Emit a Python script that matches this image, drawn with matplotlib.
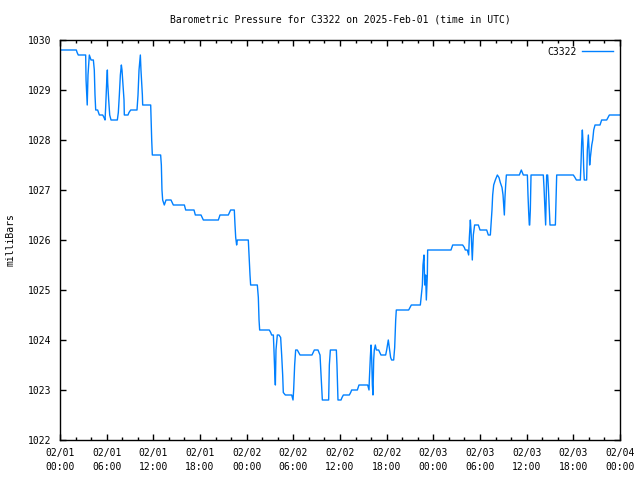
#!/usr/bin/env python3
import matplotlib

matplotlib.use("Agg", force=True)
import matplotlib.dates as mdates
import matplotlib.pyplot as plt
import pandas as pd

STATION = "C3322"
START = pd.Timestamp("2025-02-01 00:00")

# hours since 02/01 00:00 UTC
hours = [
    0.0, 2.1, 2.2, 2.35, 3.3, 3.35, 3.42, 3.5, 3.6, 3.77, 3.99, 4.29, 4.41, 4.5,
    4.59, 4.84, 5.06, 5.49, 5.66, 5.79, 5.87, 6.0, 6.09, 6.13, 6.26, 6.39, 6.56,
    7.37, 7.5, 7.63, 7.76, 7.89, 7.97, 8.06, 8.23, 8.27, 8.74, 8.87, 9.09, 9.9,
    10.03, 10.16, 10.33, 10.41, 10.59, 10.63, 11.66, 11.79, 11.87, 12.94, 13.03,
    13.11, 13.2, 13.41, 13.63, 14.27, 14.57, 15.99, 16.16, 17.23, 17.4, 18.13,
    18.43, 20.36, 20.57, 21.64, 21.94, 22.41, 22.5, 22.59, 22.71, 22.8, 24.21,
    24.3, 24.43, 24.51, 25.37, 25.5, 25.59, 25.67, 26.91, 27.09, 27.21, 27.43,
    27.51, 27.6, 27.69, 27.77, 27.94, 28.16, 28.37, 28.5, 28.63, 28.71, 28.97,
    29.79, 29.96, 30.04, 30.17, 30.3, 30.51, 30.86, 32.4, 32.7, 33.17, 33.43,
    33.51, 33.64, 33.73, 34.54, 34.63, 34.76, 35.53, 35.61, 35.74, 36.13, 36.26,
    36.43, 37.2, 37.37, 37.5, 38.23, 38.44, 39.56, 39.73, 39.77, 39.9, 39.99,
    40.07, 40.16, 40.24, 40.33, 40.41, 40.54, 40.67, 40.97, 41.27, 41.87, 42.0,
    42.21, 42.34, 42.51, 42.64, 42.9, 43.03, 43.16, 43.24, 44.83, 45.0, 45.17,
    46.33, 46.46, 46.59, 46.67, 46.8, 46.89, 47.01, 47.1, 47.23, 47.27, 50.27,
    50.49, 51.77, 51.99, 52.11, 52.37, 52.54, 52.63, 52.76, 52.84, 52.93, 53.01,
    53.14, 53.31, 53.79, 54.0, 54.86, 55.07, 55.33, 55.41, 55.54, 55.63, 55.76,
    55.97, 56.23, 56.44, 56.61, 56.83, 56.96, 57.04, 57.13, 57.21, 57.3, 57.39,
    59.06, 59.31, 59.57, 60.09, 60.17, 60.26, 60.34, 60.39, 60.47, 60.56, 62.14,
    62.23, 62.36, 62.44, 62.57, 62.7, 62.79, 62.91, 63.0, 63.69, 63.77, 63.86,
    66.0, 66.21, 66.39, 66.9, 66.99, 67.07, 67.16, 67.24, 67.33, 67.41, 67.71,
    67.8, 67.93, 68.01, 68.1, 68.19, 68.37, 68.49, 68.62, 68.79, 69.43, 69.64,
    70.29, 70.63, 72.0,
]

pressure = [
    1029.8, 1029.8, 1029.75, 1029.7, 1029.7, 1029.2, 1028.95, 1028.7, 1029.3,
    1029.7, 1029.6, 1029.6, 1029.4, 1028.9, 1028.6, 1028.6, 1028.5, 1028.5,
    1028.45, 1028.4, 1028.65, 1029.15, 1029.4, 1029.15, 1028.8, 1028.5, 1028.4,
    1028.4, 1028.55, 1028.9, 1029.3, 1029.5, 1029.4, 1029.2, 1028.8, 1028.5,
    1028.5, 1028.55, 1028.6, 1028.6, 1028.9, 1029.4, 1029.7, 1029.4, 1028.9,
    1028.7, 1028.7, 1028.0, 1027.7, 1027.7, 1027.5, 1027.0, 1026.8, 1026.7,
    1026.8, 1026.8, 1026.7, 1026.7, 1026.6, 1026.6, 1026.5, 1026.5, 1026.4,
    1026.4, 1026.5, 1026.5, 1026.6, 1026.6, 1026.3, 1026.05, 1025.9, 1026.0,
    1026.0, 1025.7, 1025.3, 1025.1, 1025.1, 1024.85, 1024.4, 1024.2, 1024.2,
    1024.15, 1024.1, 1024.1, 1023.8, 1023.4, 1023.1, 1023.8, 1024.1, 1024.1,
    1024.05, 1023.7, 1023.3, 1022.95, 1022.9, 1022.9, 1022.8, 1023.0, 1023.5,
    1023.8, 1023.8, 1023.7, 1023.7, 1023.8, 1023.8, 1023.7, 1023.45, 1023.0,
    1022.8, 1022.8, 1023.5, 1023.8, 1023.8, 1023.5, 1022.8, 1022.8, 1022.85,
    1022.9, 1022.9, 1022.95, 1023.0, 1023.0, 1023.1, 1023.1, 1023.0, 1023.2,
    1023.65, 1023.9, 1023.65, 1023.1, 1022.9, 1023.6, 1023.8, 1023.9, 1023.8,
    1023.8, 1023.7, 1023.7, 1023.8, 1024.0, 1023.85, 1023.65, 1023.6, 1023.6,
    1023.85, 1024.4, 1024.6, 1024.6, 1024.65, 1024.7, 1024.7, 1024.9, 1025.1,
    1025.5, 1025.7, 1025.1, 1025.3, 1024.8, 1025.3, 1025.8, 1025.8, 1025.9,
    1025.9, 1025.85, 1025.8, 1025.8, 1025.7, 1026.05, 1026.4, 1026.2, 1025.9,
    1025.6, 1026.1, 1026.3, 1026.3, 1026.2, 1026.2, 1026.1, 1026.1, 1026.3,
    1026.6, 1026.9, 1027.1, 1027.2, 1027.3, 1027.25, 1027.15, 1027.05, 1026.9,
    1026.7, 1026.5, 1026.85, 1027.1, 1027.3, 1027.3, 1027.4, 1027.3, 1027.3,
    1026.9, 1026.55, 1026.3, 1026.3, 1026.6, 1027.3, 1027.3, 1027.05, 1026.6,
    1026.3, 1027.3, 1027.3, 1027.05, 1026.6, 1026.3, 1026.3, 1026.75, 1027.3,
    1027.3, 1027.25, 1027.2, 1027.2, 1027.55, 1027.95, 1028.2, 1027.95, 1027.45,
    1027.2, 1027.2, 1027.8, 1028.1, 1027.85, 1027.5, 1027.65, 1027.9, 1028.0,
    1028.2, 1028.3, 1028.3, 1028.4, 1028.4, 1028.5, 1028.5,
]

Y_MIN, Y_MAX = 1022, 1030
LINE_COLOR = "#0080ff"
FONT = "DejaVu Sans Mono"


def main() -> None:
    plt.rcParams["font.family"] = FONT
    plt.rcParams["font.size"] = 7

    times = START + pd.to_timedelta(hours, unit="h")
    df = pd.DataFrame({"time": times, "pressure": pressure})

    fig = plt.figure(figsize=(6.4, 4.8), dpi=100)
    ax = fig.add_axes([60 / 640, 40 / 480, 560 / 640, 400 / 480])

    ax.plot(df["time"], df["pressure"], color=LINE_COLOR, linewidth=1.0, label=STATION)

    ax.set_xlim(START, START + pd.Timedelta(hours=72))
    ax.set_ylim(Y_MIN, Y_MAX)
    ax.xaxis.set_major_locator(mdates.HourLocator(byhour=range(0, 24, 6)))
    ax.xaxis.set_minor_locator(mdates.HourLocator(byhour=range(0, 24, 2)))
    ax.xaxis.set_major_formatter(mdates.DateFormatter("%m/%d\n%H:%M"))
    ax.set_yticks(range(Y_MIN, Y_MAX + 1))

    ax.tick_params(which="both", direction="in", top=True, right=True, colors="black", width=1)
    ax.tick_params(which="major", length=4.5)
    ax.tick_params(which="minor", length=2.2)
    ax.tick_params(axis="x", which="major", pad=6)
    ax.tick_params(axis="y", which="major", pad=6)
    for lab in ax.get_xticklabels():
        lab.set_linespacing(1.5)
    for spine in ax.spines.values():
        spine.set_linewidth(1)

    ax.set_ylabel("milliBars", labelpad=9)
    fig.text(340 / 640, 1 - 19 / 480, "Barometric Pressure for C3322 on 2025-Feb-01 (time in UTC)",
             ha="center", va="center", fontsize=7)

    ax.legend(loc="upper right", frameon=False, markerfirst=False, handlelength=3.2,
              borderaxespad=0.3, handletextpad=0.6)

    fig.savefig("out.png", dpi=100)
    plt.close(fig)


if __name__ == "__main__":
    main()
